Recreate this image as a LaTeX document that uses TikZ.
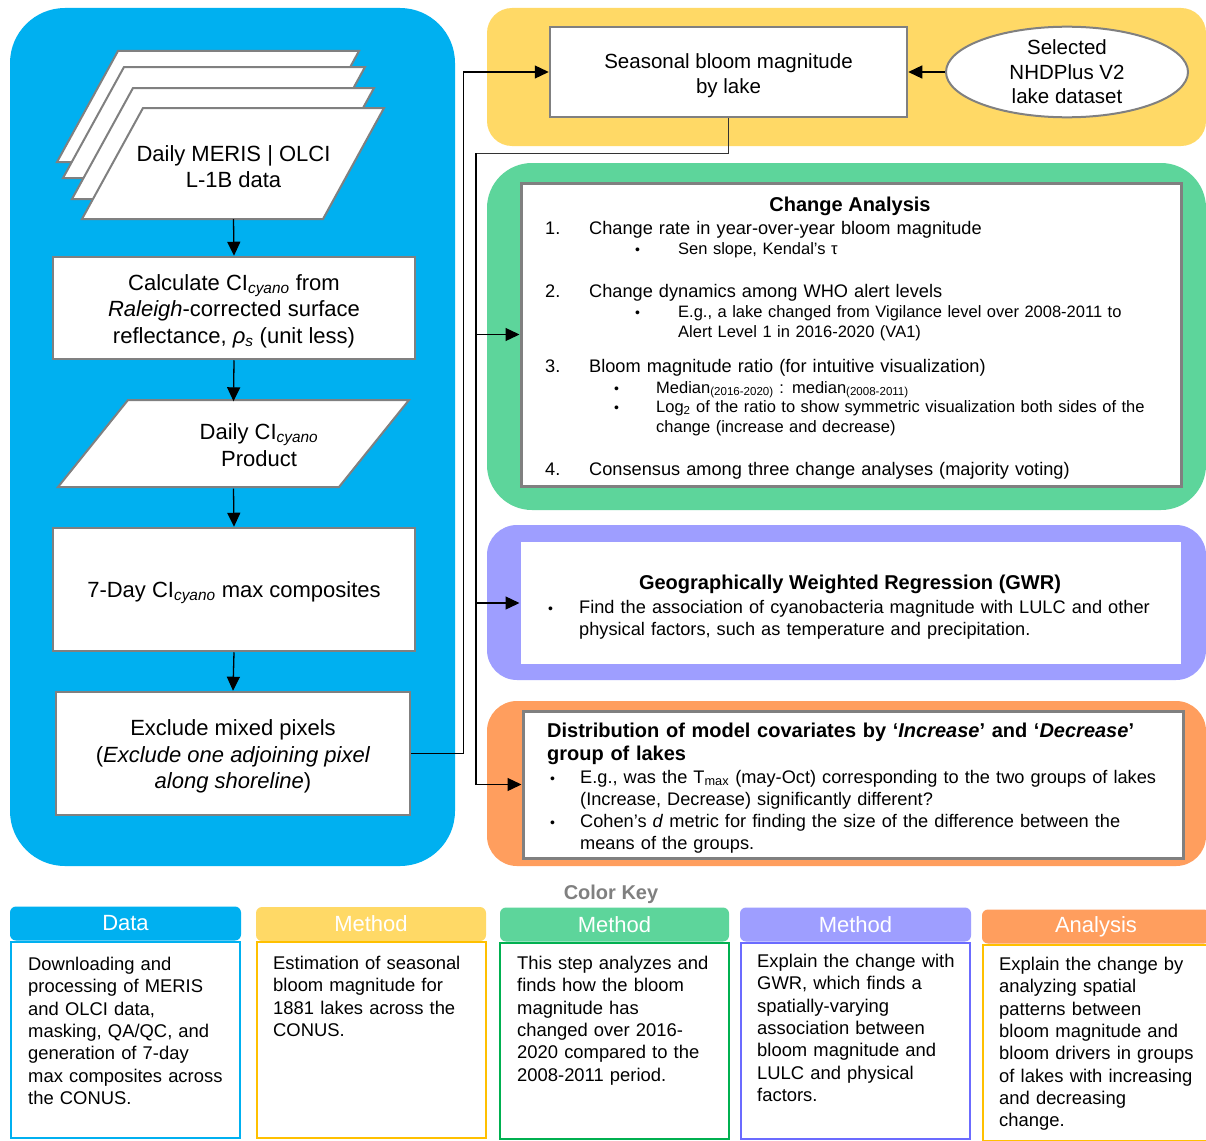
\documentclass[tikz,border=0pt]{standalone}
\usepackage{fontspec}
\setmainfont{Liberation Sans}
\usetikzlibrary{arrows.meta, positioning, calc, shapes.geometric, backgrounds}
\definecolor{dataBlue}{HTML}{00B0F0}
\definecolor{methYellow}{HTML}{FFD966}
\definecolor{methGreen}{HTML}{5DD59B}
\definecolor{methPurple}{HTML}{9E9EFF}
\definecolor{anaOrange}{HTML}{FF9E5E}
\definecolor{edgeGold}{HTML}{FFC000}
\definecolor{edgeGreen}{HTML}{00B050}
\definecolor{edgePurple}{HTML}{6B6BFF}
\definecolor{boxGray}{HTML}{808080}
\newcommand{\fsz}[2]{\fontsize{#1}{#2}\selectfont}
\newcommand{\cyano}{\textsubscript{\textit{cyano}}}
\newcommand{\bul}[1]{\llap{\makebox[#1][l]{\fsz{14}{14}\textbullet}}}
\newcommand{\tall}{\rule{0pt}{22pt}}

\begin{document}
\begin{tikzpicture}[x=1pt, y=-1pt,
  flowbox/.style={draw=boxGray, line width=2.5pt, fill=white, minimum width=362pt,
                  minimum height=102pt, align=center, font=\fsz{22}{26.5}, inner sep=0pt},
  sheetbox/.style={minimum width=303pt, minimum height=111pt, align=center,
                   font=\fsz{22}{26.5}, inner sep=0pt},
  sheet/.style={draw=boxGray, line width=2pt, fill=white, line join=miter},
  panel/.style={fill=#1, rounded corners=30pt},
  bigbox/.style={draw=boxGray, line width=3pt, fill=white, minimum width=660pt},
  item/.style={anchor=base west, inner sep=0pt, font=\fsz{18.2}{22}, text width=#1, align=left},
  item/.default=560pt,
  subitem/.style={item=#1, font=\fsz{16.5}{20.5}},
  subitem/.default=480pt,
  title/.style={anchor=base, inner sep=0pt, font=\fsz{20}{23}\bfseries},
  keyhead/.style={fill=#1, rounded corners=6pt, minimum width=231pt, minimum height=34pt,
                  text=white, font=\fsz{22}{26}, inner sep=0pt},
  keybody/.style={draw=#1, line width=2pt, minimum width=229pt, minimum height=196pt, inner sep=0pt},
  keytext/.style={anchor=base west, inner sep=0pt, font=\fsz{18.4}{22.3}, text width=215pt, align=left},
  arr/.style={-{Triangle[length=14pt, width=13pt]}, line width=1.3pt, black},
  link/.style={line width=1pt, black!80}
]
\useasboundingbox (0,0) rectangle (1206,1140);
\fill[white] (0,0) rectangle (1206,1140);

% Panels
\fill[panel=dataBlue, rounded corners=55pt] (10,8) rectangle (455,866);
\fill[panel=methYellow, rounded corners=25pt] (487,8) rectangle (1206,146);
\fill[panel=methGreen, rounded corners=45pt] (487,163) rectangle (1206,510);
\fill[panel=methPurple] (487,525) rectangle (1206,680);
\fill[panel=anaOrange] (487,701) rectangle (1206,866);

% Data stack
\foreach \x/\y in {57/51, 63/67, 72/88, 82/108}
  \draw[sheet] (\x+61,\y) -- ++(241,0) -- ++(-61,111) -- ++(-241,0) -- cycle;
\draw[sheet] (128,400) -- (409,400) -- (339,487) -- (58,487) -- cycle;

% Data processing
\node[sheetbox] (data) at (233.5,163.5) {\tall Daily MERIS | OLCI\\L-1B data};
\node[flowbox] (calc) at (234,308) {\tall Calculate CI\cyano{} from\\\textit{Raleigh}-corrected surface\\reflectance, \textit{ρ}\textsubscript{\textit{s}} (unit less)};
\node[sheetbox, minimum width=351pt, minimum height=87pt] (product) at (233.5,445)
  {\hspace*{51pt}Daily CI\cyano\\\hspace*{51pt}Product};
\node[flowbox, minimum height=123pt] (max7) at (234,589.5) {\tall 7-Day CI\cyano{} max composites};
\node[flowbox, minimum width=354pt, minimum height=123pt] (excl) at (233,753.5)
  {\tall Exclude mixed pixels\\(\textit{Exclude one adjoining pixel}\\\textit{along shoreline})};

% Seasonal magnitude
\node[flowbox, minimum width=357pt, minimum height=90pt, font=\fsz{20.5}{25}] (seas) at (728.5,72)
  {\tall Seasonal bloom magnitude\\by lake};
\node[ellipse, draw=boxGray, line width=2pt, fill=white, minimum width=242pt, minimum height=88pt,
      inner sep=0pt, align=center, font=\fsz{20.5}{24.5}] (lakes) at (1067,72)
  {Selected\\NHDPlus V2\\lake dataset};

% Change analysis
\node[bigbox, minimum height=303pt] (change) at (851,334.5) {};
\node[title] (changeT) at (850,211) {Change Analysis};
\node[item] (ca1) at (589,234) {\llap{\makebox[44pt][l]{1.}}Change rate in year-over-year bloom magnitude};
\node[subitem] (ca1a) at (678,254) {\bul{43pt}Sen slope, Kendal’s τ};
\node[item] (ca2) at (589,297) {\llap{\makebox[44pt][l]{2.}}Change dynamics among WHO alert levels};
\node[subitem] (ca2a) at (678,317) {\bul{43pt}E.g., a lake changed from Vigilance level over 2008-2011 to\\Alert Level 1 in 2016-2020 (VA1)};
\node[item] (ca3) at (589,372) {\llap{\makebox[44pt][l]{3.}}Bloom magnitude ratio (for intuitive visualization)};
\node[subitem] (ca3a) at (656,393) {\bul{42pt}Median\textsubscript{(2016-2020)} : median\textsubscript{(2008-2011)}};
\node[subitem=510pt] (ca3b) at (656,412) {\bul{42pt}Log\textsubscript{2} of the ratio to show symmetric visualization both sides of the\\change (increase and decrease)};
\node[item] (ca4) at (589,475) {\llap{\makebox[44pt][l]{4.}}Consensus among three change analyses (majority voting)};

% GWR
\node[bigbox, draw=none, minimum height=122pt] (gwr) at (851,603) {};
\node[title] (gwrT) at (850,589) {Geographically Weighted Regression (GWR)};
\node[item=600pt] (gwr1) at (579,613) {\bul{31pt}Find the association of cyanobacteria magnitude with LULC and other\\physical factors, such as temperature and precipitation.};

% Distribution
\node[bigbox, minimum height=147pt] (distr) at (853,784.5) {};
\node[item=620pt, font=\fsz{20}{23}\bfseries] (distrT) at (547,737)
  {Distribution of model covariates by ‘\textit{Increase}’ and ‘\textit{Decrease}’\\group of lakes};
\node[item=600pt] (distr1) at (580,783) {\bul{30pt}E.g., was the T\textsubscript{max} (may-Oct) corresponding to the two groups of lakes\\(Increase, Decrease) significantly different?};
\node[item=600pt] (distr2) at (580,827) {\bul{30pt}Cohen’s \textit{d} metric for finding the size of the difference between the\\means of the groups.};

% Arrows
\draw[arr] (data.south) -- (calc.north);
\draw[arr] (calc.south) -- (product.north);
\draw[arr] (product.south) -- (max7.north);
\draw[arr] (max7.south) -- (excl.north);
\draw[arr] (excl.east) -- ++(52,0) |- (seas.west);
\draw[arr] (lakes.west) -- (seas.east);
\coordinate (bus) at (476,153);
\draw[link] (seas.south) |- (bus);
\draw[arr] (bus) |- (change.west);
\draw[arr] (bus) |- (gwr.west);
\draw[arr] (bus) |- (distr.west);

% Color key
\node[title, text=boxGray] (keyT) at (611,899) {Color Key};
\node[keyhead=dataBlue] (hData) at (125.5,923.5) {Data};
\node[keyhead=methYellow, minimum width=230pt] (hSeas) at (371,924) {Method};
\node[keyhead=methGreen, minimum width=229pt] (hChange) at (614.5,924.5) {Method};
\node[keyhead=methPurple] (hGwr) at (855.5,924.5) {Method};
\node[keyhead=anaOrange, minimum width=228pt] (hDistr) at (1096,926.5) {Analysis};
\begin{scope}[on background layer]
  \fill[dataBlue] (hData.west) rectangle (hData.south east);
  \fill[methYellow] (hSeas.west) rectangle (hSeas.south east);
  \fill[methGreen] (hChange.west) rectangle (hChange.south east);
  \fill[methPurple] (hGwr.west) rectangle (hGwr.south east);
  \fill[anaOrange] (hDistr.west) rectangle (hDistr.south east);
\end{scope}

\node[keybody=dataBlue, below=0pt of hData] (bData) {};
\node[keybody=edgeGold, below=0pt of hSeas] (bSeas) {};
\node[keybody=edgeGreen, below=0pt of hChange] (bChange) {};
\node[keybody=edgePurple, below=0pt of hGwr] (bGwr) {};
\node[keybody=edgeGold, minimum width=226pt, below=0pt of hDistr] (bDistr) {};

\node[keytext] (tData) at (28,970.5) {Downloading and\\processing of MERIS\\and OLCI data,\\masking, QA/QC, and\\generation of 7-day\\max composites across\\the CONUS.};
\node[keytext] (tSeas) at (273,969.5) {Estimation of seasonal\\bloom magnitude for\\1881 lakes across the\\CONUS.};
\node[keytext] (tChange) at (517,969.5) {This step analyzes and\\finds how the bloom\\magnitude has\\changed over 2016-\\2020 compared to the\\2008-2011 period.};
\node[keytext] (tGwr) at (757,967.5) {Explain the change with\\GWR, which finds a\\spatially-varying\\association between\\bloom magnitude and\\LULC and physical\\factors.};
\node[keytext] (tDistr) at (999,970.5) {Explain the change by\\analyzing spatial\\patterns between\\bloom magnitude and\\bloom drivers in groups\\of lakes with increasing\\and decreasing\\change.};
\end{tikzpicture}
\end{document}
